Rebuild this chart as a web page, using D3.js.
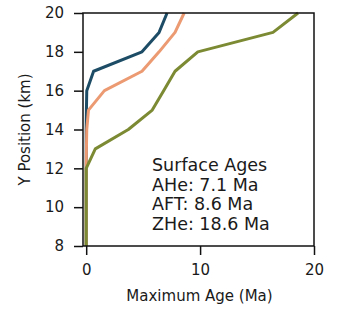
<!DOCTYPE html>
<html>
<head>
<meta charset="utf-8">
<script src="https://cdn.jsdelivr.net/npm/d3@7"></script>
<style>
  body { margin: 0; background: white; }
  svg { display: block; font-family: "DejaVu Sans", sans-serif; }
</style>
</head>
<body>
<svg id="chart" width="337" height="310"></svg>
<script>
const yPositions = [8, 9, 10, 11, 12, 13, 14, 15, 16, 17, 18, 19, 20];
const aheAges = [0, 0, 0, 0, 0, 0, 0, 0.02, 0.05, 0.65, 4.9, 6.4, 7.1];
const aftAges = [0, 0, 0, 0, 0, 0.02, 0.05, 0.2, 1.6, 4.9, 6.4, 7.8, 8.6];
const zheAges = [0, 0, 0, 0, 0, 0.8, 3.7, 5.8, 6.8, 7.8, 9.8, 16.4, 18.6];
const xTicks = [0, 10, 20];
const yTicks = [8, 10, 12, 14, 16, 18, 20];
const noteLines = ["Surface Ages", "AHe: 7.1 Ma", "AFT: 8.6 Ma", "ZHe: 18.6 Ma"];

const series = [
    { name: "AHe", ages: aheAges, colour: "#1d4d66" },
    { name: "AFT", ages: aftAges, colour: "#eb9a72" },
    { name: "ZHe", ages: zheAges, colour: "#7b8a33" }
];

const margin = { top: 13, right: 23, bottom: 64, left: 83 };
const width = 337 - margin.left - margin.right;
const height = 310 - margin.top - margin.bottom;

const svg = d3.select("#chart");
const chart = svg.append("g")
    .attr("transform", `translate(${margin.left}, ${margin.top})`);

const xScale = d3.scaleLinear().domain([-0.28, 20]).range([0, width]);
const yScale = d3.scaleLinear().domain([8, 20]).range([height, 0]);

const line = d3.line()
    .x(d => xScale(d[0]))
    .y(d => yScale(d[1]));

chart.selectAll("path.age-line")
    .data(series)
    .join("path")
    .attr("class", "age-line")
    .attr("fill", "none")
    .attr("stroke", d => d.colour)
    .attr("stroke-width", 3)
    .attr("stroke-linejoin", "round")
    .attr("d", d => line(d.ages.map((a, i) => [a, yPositions[i]])));

const xAxis = chart.append("g")
    .attr("transform", `translate(0, ${height})`)
    .call(d3.axisBottom(xScale).tickValues(xTicks).tickSize(9).tickPadding(9));

const yAxis = chart.append("g")
    .call(d3.axisLeft(yScale).tickValues(yTicks).tickSize(9).tickPadding(10));

[xAxis, yAxis].forEach(ax => {
    ax.select(".domain").remove();
    ax.selectAll("line").attr("stroke", "#111").attr("stroke-width", 1.5);
    ax.selectAll("text")
        .attr("fill", "#1a1a1a")
        .attr("font-size", 15)
        .attr("font-family", "DejaVu Sans, sans-serif");
});

// frame round the plot
chart.append("rect")
    .attr("width", width)
    .attr("height", height)
    .attr("fill", "none")
    .attr("stroke", "#111")
    .attr("stroke-width", 1.5);

svg.append("text")
    .attr("x", margin.left + width / 2 + 1)
    .attr("y", 301)
    .attr("text-anchor", "middle")
    .attr("font-size", 15)
    .attr("fill", "#1a1a1a")
    .text("Maximum Age (Ma)");

svg.append("text")
    .attr("transform", `translate(30, ${margin.top + height / 2}) rotate(-90)`)
    .attr("text-anchor", "middle")
    .attr("font-size", 15)
    .attr("fill", "#1a1a1a")
    .text("Y Position (km)");

svg.selectAll("text.note")
    .data(noteLines)
    .join("text")
    .attr("class", "note")
    .attr("x", 152)
    .attr("y", (d, i) => 171 + i * 19.7)
    .attr("font-size", 17.5)
    .attr("fill", "#1a1a1a")
    .text(d => d);
</script>
</body>
</html>
